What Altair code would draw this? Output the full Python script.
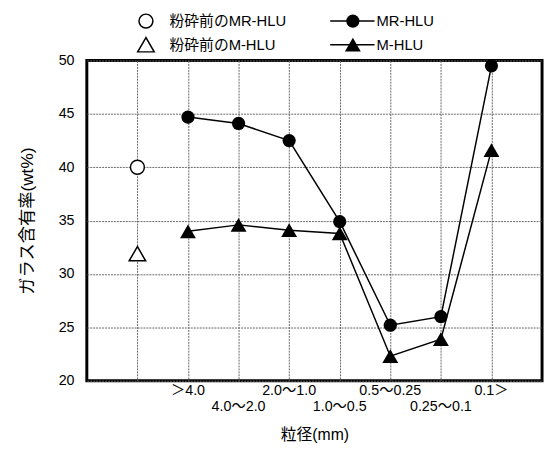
import altair as alt
import pandas as pd

categories = ["＞4.0", "4.0〜2.0", "2.0〜1.0", "1.0〜0.5", "0.5〜0.25", "0.25〜0.1", "0.1＞"]
mr_hlu = [44.7, 44.1, 42.5, 34.9, 25.2, 26.0, 49.5]
m_hlu = [34.0, 34.6, 34.1, 33.8, 22.3, 23.9, 41.6]
series_names = ["MR-HLU", "M-HLU"]
before_labels = ["粉砕前のMR-HLU", "粉砕前のM-HLU"]
before_values = [40.0, 31.9]
y_ticks = [20, 25, 30, 35, 40, 45, 50]

FONT = "Liberation Sans, Noto Sans CJK JP, sans-serif"
W, H = 462, 325
shapes = ["circle", "triangle-up"]
sizes = [180, 260]

rows = []
for s, vals in zip(series_names, [mr_hlu, m_hlu]):
    for i, (c, v) in enumerate(zip(categories, vals)):
        rows.append({"series": s, "cat": c, "pos": i + 2, "value": v})
line_df = pd.DataFrame(rows)
before_df = pd.DataFrame({"name": before_labels, "value": before_values, "pos": [1, 1]})
cat_df = pd.DataFrame({"cat": categories, "pos": [i + 2 for i in range(len(categories))],
                       "row": [i % 2 for i in range(len(categories))]})

xs = alt.Scale(domain=[0, 9], nice=False)
ys = alt.Scale(domain=[20, 50], nice=False)
xax = alt.Axis(values=list(range(1, 9)), labels=False, ticks=False, domain=False, grid=True,
               gridColor="#666", gridDash=[2, 1], gridWidth=1, title="粒径(mm)",
               titlePadding=47, titleFontSize=16, titleFontWeight="normal", titleFont=FONT,
               titleColor="black")
yax = alt.Axis(values=y_ticks, ticks=False, domain=False, grid=True, gridColor="#666",
               gridDash=[2, 1], labelPadding=13, labelFontSize=14.5, labelFont=FONT,
               labelColor="black", title="ガラス含有率(wt%)", titlePadding=22, titleFontSize=17.5,
               titleFontWeight="normal", titleFont=FONT, titleColor="black")
X = alt.X("pos:Q", scale=xs, axis=xax)
Y = alt.Y("value:Q", scale=ys, axis=yax)

lines = alt.Chart(line_df).mark_line(color="black", strokeWidth=1.5).encode(
    x=X, y=Y, detail="series:N",
)

layers = [lines]
for i, s in enumerate(series_names):
    layers.append(
        alt.Chart(line_df).transform_filter(alt.datum.series == s)
        .mark_point(shape=shapes[i], filled=True, color="black", size=sizes[i], opacity=1)
        .encode(x=X, y=Y)
    )
    layers.append(
        alt.Chart(before_df).transform_filter(alt.datum.name == before_labels[i])
        .mark_point(shape=shapes[i], filled=True, fill="white", stroke="black", strokeWidth=1.5,
                    size=sizes[i] + 20, opacity=1)
        .encode(x=X, y=Y)
    )

for r, dy in [(0, H + 10), (1, H + 27)]:
    layers.append(
        alt.Chart(cat_df).transform_filter(alt.datum.row == r)
        .mark_text(fontSize=14.5, font=FONT, color="black", baseline="middle", align="center")
        .encode(x=X, y=alt.value(dy), text="cat:N")
    )

# legend
leg_y = [-40, -16]
for i in range(2):
    layers.append(
        alt.Chart(pd.DataFrame({"name": [before_labels[i]]}))
        .mark_point(shape=shapes[i], filled=True, fill="white", stroke="black", strokeWidth=1.5,
                    size=sizes[i] + 20, opacity=1)
        .encode(x=alt.value(60), y=alt.value(leg_y[i]))
    )
    layers.append(
        alt.Chart(pd.DataFrame({"name": [before_labels[i]]}))
        .mark_text(fontSize=15, font=FONT, align="left", baseline="middle", color="black")
        .encode(x=alt.value(84), y=alt.value(leg_y[i]), text="name:N")
    )
    layers.append(
        alt.Chart(pd.DataFrame({"name": [series_names[i]]}))
        .mark_rule(color="black", strokeWidth=1.5)
        .encode(x=alt.value(247), x2=alt.value(292), y=alt.value(leg_y[i]))
    )
    layers.append(
        alt.Chart(pd.DataFrame({"name": [series_names[i]]}))
        .mark_point(shape=shapes[i], filled=True, color="black", size=sizes[i], opacity=1)
        .encode(x=alt.value(270), y=alt.value(leg_y[i]))
    )
    layers.append(
        alt.Chart(pd.DataFrame({"name": [series_names[i]]}))
        .mark_text(fontSize=15, font=FONT, align="left", baseline="middle", color="black")
        .encode(x=alt.value(294), y=alt.value(leg_y[i]), text="name:N")
    )

chart = alt.layer(*layers).properties(
    width=W, height=H,
    autosize=alt.AutoSizeParams(type="none"),
    padding={"left": 80, "top": 50, "right": 3, "bottom": 66},
    background="white",
).configure_view(stroke="black", strokeWidth=3)

chart.save("out.html", embed_options={"renderer": "svg", "actions": False})
